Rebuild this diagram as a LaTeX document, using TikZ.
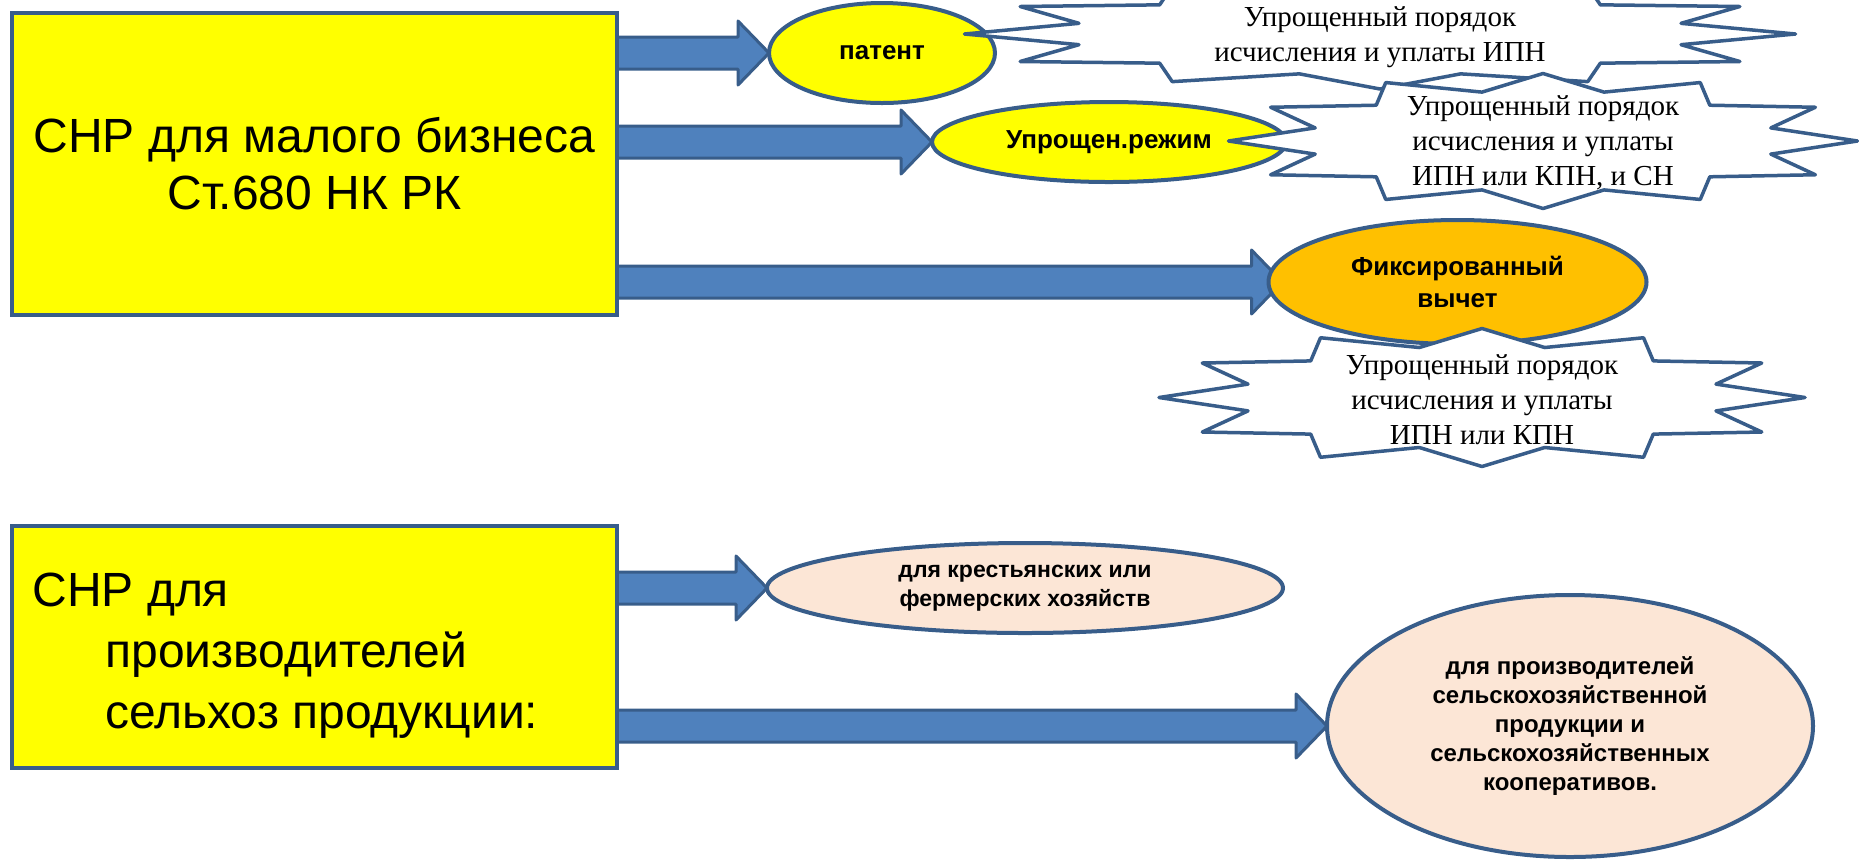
\documentclass[tikz,border=0pt]{standalone}
\usepackage{fontspec}
\setmainfont{Liberation Sans}
\newfontfamily\timesfont{Liberation Serif}
\usetikzlibrary{shapes.geometric,calc,backgrounds}

\definecolor{edgeblue}{HTML}{385D8A}
\definecolor{arrowblue}{HTML}{4F81BD}
\definecolor{boxyellow}{HTML}{FFFF00}
\definecolor{goldfill}{HTML}{FFC000}
\definecolor{peachfill}{HTML}{FCE6D6}

\newcommand{\fatarrow}[3][0]{%
  \draw[fatarrow] ($(#2.east |- #3.west)+(0,-16)$) -- ($(#3.west)+(#1-31,-16)$)
    -- ($(#3.west)+(#1-31,-32)$) -- ($(#3.west)+(#1,0)$) -- ($(#3.west)+(#1-31,32)$)
    -- ($(#3.west)+(#1-31,16)$) -- ($(#2.east |- #3.west)+(0,16)$) -- cycle;}
\newcommand{\burst}[4]{%
  \draw[burst] ({#1+#3},#2) \foreach \a in {0,30,...,330}{
    -- ({#1+0.75*#3*cos(\a+15)},{#2+0.75*#4*sin(\a+15)})
    -- ({#1+#3*cos(\a+30)},{#2+#4*sin(\a+30)})} -- cycle;}

\begin{document}
\begin{tikzpicture}[x=0.5pt, y=-0.5pt,
    bigbox/.style={draw=edgeblue, line width=2pt, fill=boxyellow, outer sep=0pt,
      minimum width=302.5pt, font=\fontsize{24}{28.5}\selectfont},
    oval/.style={ellipse, draw=edgeblue, line width=2pt, inner sep=0pt, outer sep=0pt,
      align=center, font=\bfseries\fontsize{13}{16}\selectfont},
    fatarrow/.style={draw=edgeblue, fill=arrowblue, line width=1.5pt, line join=round},
    burst/.style={draw=edgeblue, fill=white, line width=1.75pt, line join=round},
    bursttext/.style={align=center, font=\timesfont\fontsize{14.5}{17.5}\selectfont}]
    \clip (0,0) rectangle (1859,859);
    \node[bigbox, minimum height=151pt, align=center] (smallbiz) at (314.5,164) {СНР для малого бизнеса\\Ст.680 НК РК};
    \node[bigbox, minimum height=121pt] (agro) at (314.5,647) {};
    \node[anchor=west, align=left, inner sep=0pt, font=\fontsize{24}{30.5}\selectfont] (agrotext) at (32,656)
      {СНР для\\\hspace*{36.5pt}производителей\\\hspace*{36.5pt}сельхоз продукции:};

    \node[oval, fill=boxyellow, minimum width=113pt, minimum height=50pt] (patent) at (882,53) {патент};
    \node[oval, fill=boxyellow, minimum width=177pt, minimum height=40pt] (simple) at (1109,142) {Упрощен.режим};
    \node[oval, fill=goldfill, minimum width=189pt, minimum height=62pt] (fixed) at (1457.5,282) {Фиксированный\\вычет};
    \node[oval, fill=peachfill, minimum width=258pt, minimum height=45pt, font=\bfseries\fontsize{11.5}{14.5}\selectfont] (farm) at (1025,588)
      {для крестьянских или\\фермерских хозяйств};
    \node[oval, fill=peachfill, minimum width=243pt, minimum height=131pt, font=\bfseries\fontsize{12}{14.5}\selectfont] (coop) at (1570,726)
      {для производителей\\сельскохозяйственной\\продукции и\\сельскохозяйственных\\кооперативов.};

    \begin{pgfonlayer}{background}
        \fatarrow{smallbiz}{patent}
        \fatarrow{smallbiz}{simple}
        \fatarrow[14]{smallbiz}{fixed}
        \fatarrow{agro}{farm}
        \fatarrow{agro}{coop}
    \end{pgfonlayer}

    \burst{1380}{34}{415.5}{55}
    \node[bursttext] (ipn) at (1380,37) {Упрощенный порядок\\исчисления и уплаты ИПН};
    \burst{1543}{141}{314.5}{67.5}
    \node[bursttext] (ipnkpnsn) at (1543,143) {Упрощенный порядок\\исчисления и уплаты\\ИПН или КПН, и СН};
    \burst{1482}{397.5}{323}{69}
    \node[bursttext] (ipnkpn) at (1482,400) {Упрощенный порядок\\исчисления и уплаты\\ИПН или КПН};
\end{tikzpicture}
\end{document}
